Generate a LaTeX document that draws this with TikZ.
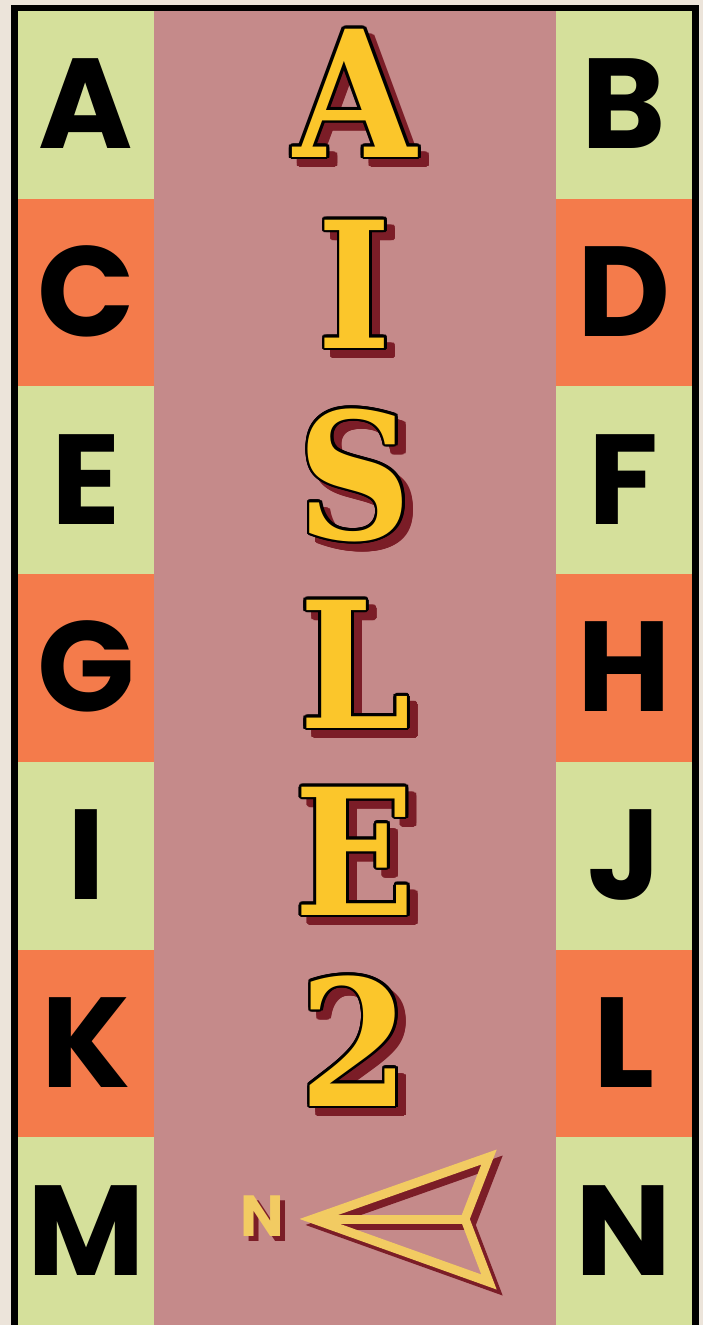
\documentclass[tikz,border=0pt]{standalone}
\usepackage{fontspec}
\usetikzlibrary{positioning,calc}
\newfontfamily\cellfont{Poppins}
\newfontfamily\aislefont{DejaVu Serif Condensed}
\definecolor{paper}{HTML}{ECE4DA}
\definecolor{lime}{HTML}{D5E09B}
\definecolor{coral}{HTML}{F47B4B}
\definecolor{rose}{HTML}{C58A8A}
\definecolor{gold}{HTML}{FBC62B}
\definecolor{wine}{HTML}{7B1D27}
\definecolor{sand}{HTML}{F2CB62}
\tikzset{
  cellchar/.style={anchor=base, inner sep=0pt, text=black,
                   font=\cellfont\bfseries\fontsize{128}{128}\selectfont},
  bigchar/.style={anchor=base, inner sep=0pt,
                  font=\aislefont\bfseries\fontsize{176}{176}\selectfont},
  tagchar/.style={anchor=base, inner sep=0pt,
                  font=\cellfont\bfseries\fontsize{58}{58}\selectfont},
  pointer/.style={line width=9pt, line join=miter, miter limit=20}
}
% outlined letter with drop shadow: name, baseline, glyph
\newcommand{\aislechar}[3]{%
  \foreach \a in {0,22.5,...,337.5}
    \node[bigchar, text=wine, shift={(\a:2.8)}] at (363,{#2+8}) {#3};
  \foreach \a in {0,22.5,...,337.5}
    \node[bigchar, text=black, shift={(\a:2.8)}] at (355,#2) {#3};
  \node[bigchar, text=gold] (#1) at (355,#2) {#3};
}

\begin{document}
\begin{tikzpicture}[x=1pt, y=-1pt]

  \useasboundingbox (0,0) rectangle (703,1325);
  \fill[paper] (0,0) rectangle (703,1325);

  %% frame and aisle
  \fill[black] (11,5) rectangle (699,1325);
  \fill[rose] (154,11) rectangle (556,1325);

  %% shelf cells
  \foreach \lt/\rt/\tone [count=\r from 0] in
      {A/B/lime, C/D/coral, E/F/lime, G/H/coral, I/J/lime, K/L/coral, M/N/lime} {
    \pgfmathsetmacro\top{11+187.7*\r}
    \fill[\tone] (18,\top) rectangle (154,{\top+187.7});
    \fill[\tone] (556,\top) rectangle (692,{\top+187.7});
    \node[cellchar] (cell\lt) at (86,{\top+93.85+44}) {\lt};
    \node[cellchar] (cell\rt) at (624,{\top+93.85+44}) {\rt};
  }

  %% aisle title
  \aislechar{tA}{157}{A}
  \aislechar{tI}{348}{I}
  \aislechar{tS}{539}{S}
  \aislechar{tL}{728}{L}
  \aislechar{tE}{915}{E}
  \aislechar{t2}{1106}{2}

  %% north marker
  \node[tagchar, text=wine] (tagshadow) at (267,1241) {N};
  \node[tagchar, text=sand] (tag) at (262,1236) {N};

  \coordinate (tip)   at (313,1219);
  \coordinate (upper) at (489,1157);
  \coordinate (notch) at (465,1219);
  \coordinate (lower) at (489,1282);
  \draw[pointer, wine] ([shift={(6,6)}]tip) -- ([shift={(6,6)}]upper)
    -- ([shift={(6,6)}]notch) -- ([shift={(6,6)}]lower) -- cycle;
  \draw[pointer, wine] ([shift={(6,6)}]tip) -- ([shift={(6,6)}]notch);
  \draw[pointer, sand] (tip) -- (upper) -- (notch) -- (lower) -- cycle;
  \draw[pointer, sand] (tip) -- (notch);

\end{tikzpicture}
\end{document}
